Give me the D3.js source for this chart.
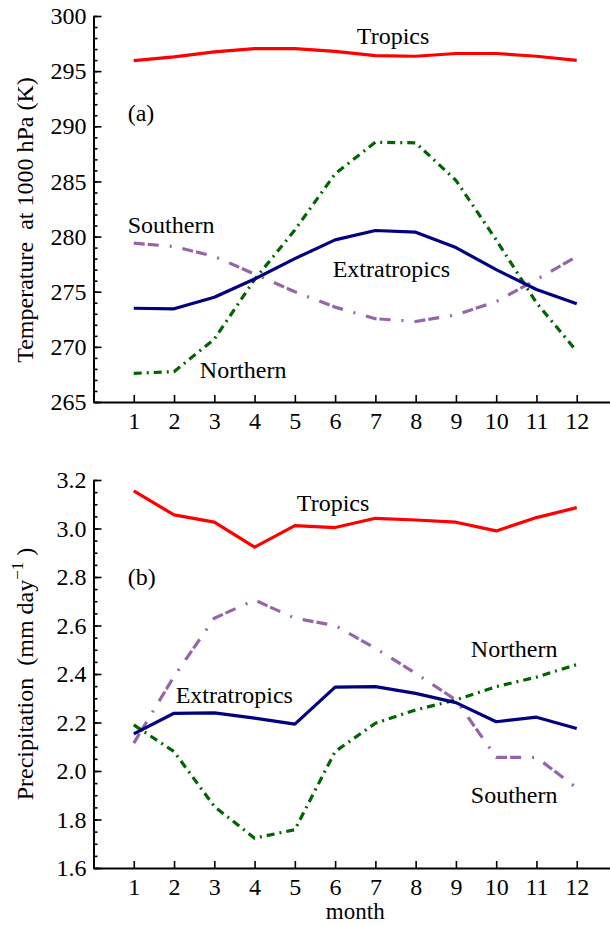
<!DOCTYPE html>
<html>
<head>
<meta charset="utf-8">
<script src="https://cdn.jsdelivr.net/npm/d3@7"></script>
<style>
  body { margin: 0; background: #fff; }
  svg text { font-family: "Liberation Serif", "DejaVu Serif", serif; }
</style>
</head>
<body>
<svg width="610" height="925"></svg>
<script>
// monthly means
var months = [1, 2, 3, 4, 5, 6, 7, 8, 9, 10, 11, 12];

var tempTropics = [295.95, 296.3, 296.75, 297.05, 297.05, 296.8, 296.4, 296.35, 296.6, 296.6, 296.35, 295.98];
var tempExtra = [273.5, 273.45, 274.5, 276.15, 278.0, 279.7, 280.55, 280.4, 279.0, 277.0, 275.2, 273.9];
var tempNorth = [267.6, 267.75, 270.7, 276.1, 280.6, 285.7, 288.55, 288.5, 285.1, 279.7, 274.0, 269.6];
var tempSouth = [279.4, 279.1, 278.2, 276.6, 275.0, 273.6, 272.55, 272.3, 272.9, 274.1, 276.1, 278.2];

var precTropics = [3.155, 3.056, 3.026, 2.923, 3.012, 3.004, 3.042, 3.035, 3.026, 2.99, 3.045, 3.086];
var precExtra = [2.153, 2.238, 2.24, 2.218, 2.193, 2.346, 2.348, 2.32, 2.282, 2.203, 2.222, 2.175];
var precNorth = [2.19, 2.08, 1.854, 1.723, 1.758, 2.08, 2.197, 2.252, 2.293, 2.348, 2.387, 2.439];
var precSouth = [2.115, 2.39, 2.63, 2.705, 2.63, 2.60, 2.506, 2.403, 2.293, 2.056, 2.056, 1.93];

var tempTicks = [265, 270, 275, 280, 285, 290, 295, 300];
var precTicks = [1.6, 1.8, 2.0, 2.2, 2.4, 2.6, 2.8, 3.0, 3.2];

var svg = d3.select("svg");
var x = d3.scaleLinear().domain([0, 13]).range([93.5, 617]);

var styles = {
  tropics: { color: "#ff0000", dash: null },
  extra: { color: "#000080", dash: null },
  north: { color: "#006400", dash: "8,5,2,5" },
  south: { color: "#9466a9", dash: "11,3,11,11,2,11" }
};

function drawPanel(p) {
  var y = d3.scaleLinear().domain(p.domain).range(p.range);
  var g = svg.append("g");

  // minor ticks first so the major ones sit on top
  g.append("g")
    .attr("transform", "translate(" + x(0) + ",0)")
    .call(d3.axisLeft(y).tickValues(p.minor).tickSize(-4).tickFormat(""))
    .call(a => a.select(".domain").remove());

  var ya = g.append("g")
    .attr("transform", "translate(" + x(0) + ",0)")
    .call(d3.axisLeft(y).tickValues(p.ticks).tickSizeInner(-8).tickSizeOuter(0)
      .tickPadding(7).tickFormat(p.fmt));

  var xa = g.append("g")
    .attr("transform", "translate(0," + p.range[0] + ")")
    .call(d3.axisBottom(x).tickValues(months).tickSizeInner(-7).tickSizeOuter(0)
      .tickPadding(10).tickFormat(d3.format("d")));

  [ya, xa].forEach(function (a) {
    a.attr("font-family", null).attr("font-size", null);
    a.select(".domain").attr("stroke-width", 2);
    a.selectAll("text").attr("font-size", "24px").attr("fill", "#000");
  });
  g.selectAll("line").attr("stroke-width", 1.6);

  var line = d3.line().x((d, i) => x(months[i])).y(d => y(d));
  p.series.forEach(function (s) {
    g.append("path")
      .datum(s.values)
      .attr("fill", "none")
      .attr("stroke", styles[s.key].color)
      .attr("stroke-width", 3.2)
      .attr("stroke-dasharray", styles[s.key].dash)
      .attr("stroke-linejoin", "round")
      .attr("d", line);
  });

  p.labels.forEach(function (l) {
    g.append("text")
      .attr("x", x(l[1]))
      .attr("y", y(l[2]))
      .attr("font-size", "24px")
      .text(l[0]);
  });
  return g;
}

drawPanel({
  domain: [265, 300], range: [402, 16],
  ticks: tempTicks, minor: d3.range(265, 301, 1), fmt: d3.format("d"),
  series: [
    { key: "tropics", values: tempTropics },
    { key: "south", values: tempSouth },
    { key: "north", values: tempNorth },
    { key: "extra", values: tempExtra }
  ],
  labels: [["Tropics", 6.54, 297.5], ["(a)", 0.85, 290.5], ["Southern", 0.85, 280.3],
           ["Extratropics", 5.94, 276.3], ["Northern", 2.64, 267.2]]
});

drawPanel({
  domain: [1.6, 3.2], range: [868, 480],
  ticks: precTicks, minor: d3.range(1.6, 3.21, 0.05), fmt: d3.format(".1f"),
  series: [
    { key: "tropics", values: precTropics },
    { key: "south", values: precSouth },
    { key: "north", values: precNorth },
    { key: "extra", values: precExtra }
  ],
  labels: [["Tropics", 5.05, 3.072], ["(b)", 0.85, 2.767], ["Northern", 9.37, 2.47],
           ["Extratropics", 2.04, 2.28], ["Southern", 9.37, 1.868]]
});

// axis titles
svg.append("text")
  .attr("transform", "translate(33,220) rotate(-90)")
  .attr("text-anchor", "middle")
  .attr("font-size", "24px")
  .style("white-space", "pre")
  .text("Temperature  at 1000 hPa (K)");

var pt = svg.append("text")
  .attr("transform", "translate(33,674) rotate(-90)")
  .attr("text-anchor", "middle")
  .attr("font-size", "24px")
  .style("white-space", "pre");
pt.append("tspan").text("Precipitation  (mm day");
pt.append("tspan").attr("font-size", "17px").attr("dy", "-10").text("\u22121");
pt.append("tspan").attr("dy", "10").text(" )");

svg.append("text")
  .attr("x", x(6.5))
  .attr("y", 919)
  .attr("text-anchor", "middle")
  .attr("font-size", "23px")
  .text("month");
</script>
</body>
</html>
